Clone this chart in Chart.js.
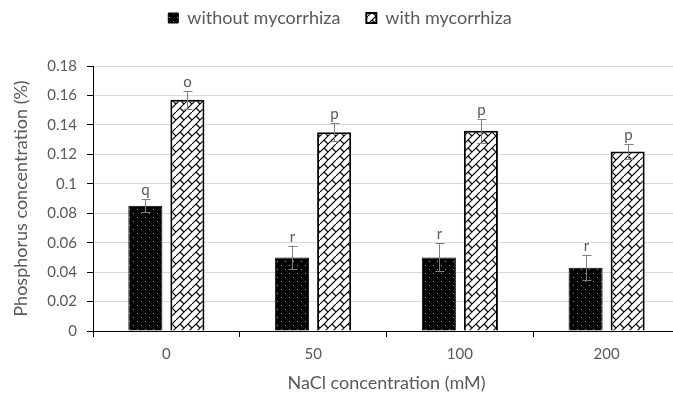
<!DOCTYPE html>
<html>
<head>
<meta charset="utf-8">
<script src="https://cdn.jsdelivr.net/npm/chart.js@4.4.1/dist/chart.umd.min.js"></script>
<style>
  html, body { margin: 0; padding: 0; background: #fff; overflow: hidden; }
  #wrap { width: 690px; height: 398px; }
</style>
</head>
<body>
<div id="wrap"><canvas id="chart" width="690" height="398"></canvas></div>
<script>
const categories = ['0', '50', '100', '200'];
const withoutMyco = [0.085, 0.050, 0.050, 0.043];
const withMyco = [0.157, 0.135, 0.136, 0.122];
const withoutErr = [0.0045, 0.008, 0.0095, 0.0085];
const withErr = [0.006, 0.006, 0.008, 0.005];
const withoutLetters = ['q', 'r', 'r', 'r'];
const withLetters = ['o', 'p', 'p', 'p'];
const yTicks = [0, 0.02, 0.04, 0.06, 0.08, 0.1, 0.12, 0.14, 0.16, 0.18];

const FONT = 'Lato';
const TEXT = '#595959';

// black fill with small light dots
function dotPattern() {
  const c = document.createElement('canvas');
  c.width = 8; c.height = 8;
  const g = c.getContext('2d');
  g.fillStyle = '#000';
  g.fillRect(0, 0, 8, 8);
  g.fillStyle = '#9a9a9a';
  g.fillRect(1, 1, 1, 1);
  g.fillRect(5, 5, 1, 1);
  return g.createPattern(c, 'repeat');
}

// white fill with diagonal brick lines
function brickPattern() {
  const c = document.createElement('canvas');
  c.width = 16; c.height = 16;
  const g = c.getContext('2d');
  g.fillStyle = '#fff';
  g.fillRect(0, 0, 16, 16);
  g.strokeStyle = '#000';
  g.lineWidth = 1.1;
  g.beginPath();
  g.moveTo(0, 8); g.lineTo(8, 0);
  g.moveTo(0, 16); g.lineTo(16, 0);
  g.moveTo(8, 16); g.lineTo(16, 8);
  g.moveTo(4, 4); g.lineTo(8, 8);
  g.moveTo(12, 4); g.lineTo(16, 8);
  g.moveTo(4, 12); g.lineTo(8, 16);
  g.stroke();
  return g.createPattern(c, 'repeat');
}

// leave room between legend and plot, like the original
const legendGap = {
  id: 'legendGap',
  afterInit(chart) {
    const lg = chart.legend;
    if (!lg) return;
    const fit = lg.fit;
    lg.fit = function () {
      fit.call(this);
      this.height = 83;
    };
  }
};

const errorBars = {
  id: 'errorBars',
  afterDatasetsDraw(chart) {
    const ctx = chart.ctx;
    const y = chart.scales.y;
    const errs = [withoutErr, withErr];
    const letters = [withoutLetters, withLetters];
    ctx.save();
    chart.data.datasets.forEach((ds, di) => {
      const meta = chart.getDatasetMeta(di);
      meta.data.forEach((bar, i) => {
        const v = ds.data[i];
        const e = errs[di][i];
        const top = y.getPixelForValue(v + e);
        const bot = y.getPixelForValue(v - e);
        const x = Math.round(bar.x) + 0.5;
        ctx.strokeStyle = '#7f7f7f';
        ctx.lineWidth = 1;
        ctx.beginPath();
        ctx.moveTo(x, top); ctx.lineTo(x, bot);
        ctx.moveTo(x - 4, Math.round(top) + 0.5); ctx.lineTo(x + 5, Math.round(top) + 0.5);
        ctx.moveTo(x - 4, Math.round(bot) + 0.5); ctx.lineTo(x + 5, Math.round(bot) + 0.5);
        ctx.stroke();
        ctx.fillStyle = TEXT;
        ctx.font = '15px ' + FONT;
        ctx.textAlign = 'center';
        ctx.textBaseline = 'alphabetic';
        ctx.fillText(letters[di][i], x, top - 4);
      });
    });
    ctx.restore();
  }
};

new Chart(document.getElementById('chart'), {
  type: 'bar',
  data: {
    labels: categories,
    datasets: [
      {
        label: 'without mycorrhiza',
        data: withoutMyco,
        backgroundColor: dotPattern(),
        borderColor: '#000',
        borderWidth: 1
      },
      {
        label: 'with mycorrhiza',
        data: withMyco,
        backgroundColor: brickPattern(),
        borderColor: '#000',
        borderWidth: 2
      }
    ]
  },
  options: {
    responsive: false,
    animation: false,
    devicePixelRatio: 1,
    categoryPercentage: 0.573,
    barPercentage: 0.81,
    layout: { padding: { top: -17, right: 10, left: 0, bottom: 0 } },
    plugins: {
      tooltip: { enabled: false },
      legend: {
        position: 'top',
        labels: {
          color: TEXT,
          font: { family: FONT, size: 18 },
          boxWidth: 10,
          boxHeight: 10,
          padding: 26
        }
      }
    },
    scales: {
      x: {
        offset: true,
        grid: {
          offset: true,
          drawOnChartArea: false,
          drawTicks: true,
          tickLength: 6,
          tickColor: '#000'
        },
        border: { color: '#000', width: 1 },
        ticks: { color: TEXT, font: { family: FONT, size: 15 }, padding: 8 },
        title: {
          display: true,
          text: 'NaCl concentration (mM)',
          color: TEXT,
          font: { family: FONT, size: 18 },
          padding: { top: 4 }
        },
        afterFit(scale) { scale.height = 67; }
      },
      y: {
        min: 0,
        max: 0.18,
        afterBuildTicks(scale) { scale.ticks = yTicks.map(v => ({ value: v })); },
        grid: {
          color: '#d9d9d9',
          tickColor: '#000',
          tickLength: 6
        },
        border: { color: '#000', width: 1 },
        ticks: {
          color: TEXT,
          font: { family: FONT, size: 15 },
          padding: 10,
          callback: v => String(Math.round(v * 100) / 100)
        },
        title: {
          display: true,
          text: 'Phosphorus concentration (%)',
          color: TEXT,
          font: { family: FONT, size: 18 },
          padding: { top: 10, bottom: 0 }
        },
        afterFit(scale) { scale.width = 93; }
      }
    }
  },
  plugins: [legendGap, errorBars]
});
</script>
</body>
</html>
